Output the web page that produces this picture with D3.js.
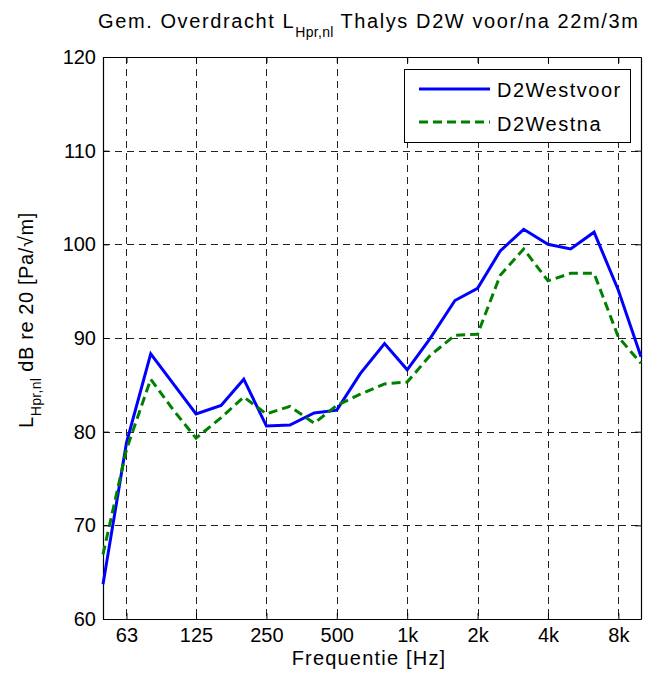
<!DOCTYPE html>
<html>
<head>
<meta charset="utf-8">
<script src="https://cdn.jsdelivr.net/npm/d3@7"></script>
<style>
  body { margin: 0; background: #fff; }
  svg { display: block; }
  text { font-family: "Liberation Sans", Arial, sans-serif; fill: #000; }
</style>
</head>
<body>
<svg id="chart" width="645" height="684"></svg>
<script>
const frequencies = [50, 63, 80, 100, 125, 160, 200, 250, 315, 400, 500, 630, 800, 1000, 1250, 1600, 2000, 2500, 3150, 4000, 5000, 6300, 8000, 10000];
const d2westvoor = [63.7, 78.8, 88.3, 85.1, 81.9, 82.8, 85.6, 80.6, 80.7, 82.0, 82.3, 86.2, 89.4, 86.6, 89.9, 94.0, 95.3, 99.3, 101.6, 100.0, 99.5, 101.3, 95.1, 88.0];
const d2westna   = [66.9, 78.1, 85.6, 82.3, 79.3, 81.5, 83.7, 81.9, 82.7, 80.9, 82.8, 84.0, 85.1, 85.3, 88.1, 90.3, 90.4, 96.7, 99.5, 96.1, 96.9, 96.9, 90.1, 87.3];
const xTickValues = [63, 125, 250, 500, 1000, 2000, 4000, 8000];
const xTickLabels = ["63", "125", "250", "500", "1k", "2k", "4k", "8k"];
const yTickValues = [60, 70, 80, 90, 100, 110, 120];
const seriesNames = ["D2Westvoor", "D2Westna"];

const svg = d3.select("#chart");
const L = 103, R = 641, T = 57, B = 619;
const x = d3.scaleLog().domain([50, 10000]).range([L, R]);
const y = d3.scaleLinear().domain([60, 120]).range([B, T]);

// grid
const grid = svg.append("g").attr("stroke", "#222").attr("stroke-width", 1)
  .attr("stroke-dasharray", "7,5").attr("shape-rendering", "crispEdges");
grid.selectAll(".gx").data(xTickValues).join("line")
  .attr("x1", d => Math.round(x(d)) + 0.5).attr("x2", d => Math.round(x(d)) + 0.5)
  .attr("y1", T).attr("y2", B);
grid.selectAll(".gy").data(yTickValues.slice(1, -1)).join("line")
  .attr("y1", d => Math.round(y(d)) + 0.5).attr("y2", d => Math.round(y(d)) + 0.5)
  .attr("x1", L).attr("x2", R);

// axes (inside ticks, MATLAB style)
const axB = svg.append("g").attr("transform", `translate(0,${B})`)
  .call(d3.axisBottom(x).tickValues(xTickValues).tickFormat((d, i) => xTickLabels[i]).tickSizeInner(-6).tickSizeOuter(0).tickPadding(9));
const axT = svg.append("g").attr("transform", `translate(0,${T})`)
  .call(d3.axisTop(x).tickValues(xTickValues).tickFormat("").tickSizeInner(-6).tickSizeOuter(0));
const axL = svg.append("g").attr("transform", `translate(${L},0)`)
  .call(d3.axisLeft(y).tickValues(yTickValues).tickSizeInner(-6).tickSizeOuter(0).tickPadding(7));
const axR = svg.append("g").attr("transform", `translate(${R},0)`)
  .call(d3.axisRight(y).tickValues(yTickValues).tickFormat("").tickSizeInner(-6).tickSizeOuter(0));
[axB, axT, axL, axR].forEach(a => {
  a.selectAll(".domain").attr("stroke", "#000").attr("stroke-width", 1.2);
  a.selectAll(".tick line").attr("stroke", "#000");
  a.selectAll("text").style("font-family", '"Liberation Sans", Arial, sans-serif').style("font-size", "20px").attr("fill", "#000");
});

// lines
const line = d3.line().x((d, i) => x(frequencies[i])).y(d => y(d));
svg.append("path").datum(d2westvoor).attr("d", line)
  .attr("fill", "none").attr("stroke", "#0000ff").attr("stroke-width", 3).attr("stroke-linejoin", "miter");
svg.append("path").datum(d2westna).attr("d", line)
  .attr("fill", "none").attr("stroke", "#008000").attr("stroke-width", 3).attr("stroke-dasharray", "9,5");

// legend
const lg = svg.append("g");
lg.append("rect").attr("x", 404.5).attr("y", 69.5).attr("width", 226).attr("height", 73)
  .attr("fill", "#fff").attr("stroke", "#000").attr("stroke-width", 1);
lg.append("line").attr("x1", 419).attr("x2", 490).attr("y1", 89).attr("y2", 89)
  .attr("stroke", "#0000ff").attr("stroke-width", 3);
lg.append("line").attr("x1", 419).attr("x2", 490).attr("y1", 122).attr("y2", 122)
  .attr("stroke", "#008000").attr("stroke-width", 3).attr("stroke-dasharray", "9,5");
lg.append("text").attr("x", 497).attr("y", 97).style("font-size", "20px").style("letter-spacing", "1.5px").text(seriesNames[0]);
lg.append("text").attr("x", 497).attr("y", 130.5).style("font-size", "20px").style("letter-spacing", "1.5px").text(seriesNames[1]);

// title
const title = svg.append("text").attr("x", 98).attr("y", 27.5).style("font-size", "20px").style("letter-spacing", "1.6px");
title.append("tspan").text("Gem. Overdracht L");
title.append("tspan").attr("dy", 9).style("font-size", "14px").style("letter-spacing", "0.3px").text("Hpr,nl");
title.append("tspan").attr("dy", -9).text(" Thalys D2W voor/na 22m/3m");

// x label
svg.append("text").attr("x", 369).attr("y", 664.5).attr("text-anchor", "middle")
  .style("font-size", "20px").style("letter-spacing", "1.2px").text("Frequentie [Hz]");

// y label
const yl = svg.append("text").attr("transform", "translate(33,320) rotate(-90)")
  .attr("text-anchor", "middle").style("font-size", "20px").style("letter-spacing", "0.6px");
yl.append("tspan").text("L");
yl.append("tspan").attr("dy", 8).style("font-size", "14px").style("letter-spacing", "0.3px").text("Hpr,nl");
yl.append("tspan").attr("dy", -8).text(" dB re 20 [Pa/\u221Am]");
</script>
</body>
</html>
